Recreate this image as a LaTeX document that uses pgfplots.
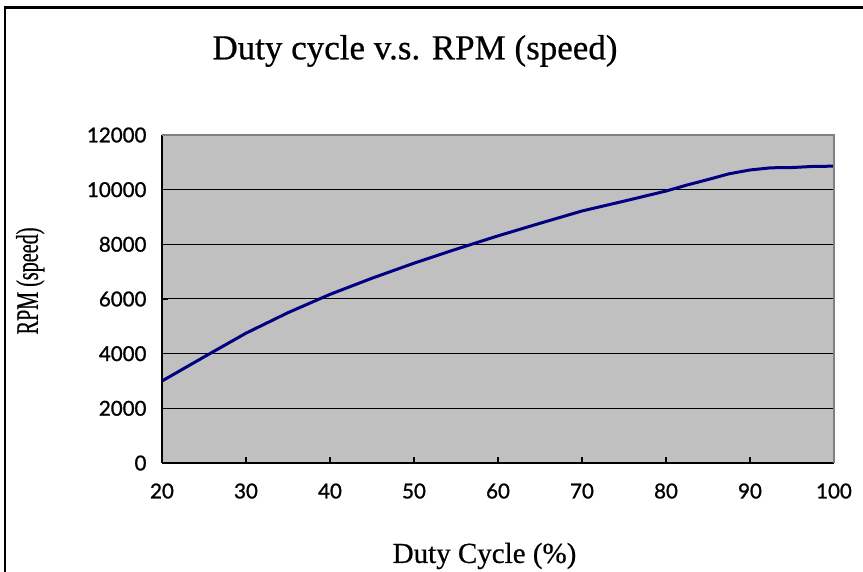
\documentclass[border=0pt]{standalone}
\usepackage{graphicx}
\usepackage{fontspec}
\setmainfont{Liberation Serif}
\newfontfamily\serifheavy[FakeBold=0.6]{Liberation Serif}
\newfontfamily\tickfont[FakeBold=1.2]{Lato}
\usepackage{pgfplots}
\pgfplotsset{compat=1.18}
\definecolor{plotgray}{RGB}{192,192,192}
\definecolor{edgegray}{RGB}{128,128,128}
\definecolor{navyline}{RGB}{0,0,128}
\begin{document}
\begin{tikzpicture}
\useasboundingbox (0,0) rectangle (863pt,571pt);
\fill[white] (0,0) rectangle (863pt,571pt);
\draw[black, line width=2.5pt] (5pt,-30pt) rectangle (900pt,563.5pt);
\begin{axis}[
  at={(162pt,108pt)}, anchor=south west,
  scale only axis, width=672pt, height=328pt,
  xmin=20, xmax=100, ymin=0, ymax=12000,
  xtick={20,30,...,100},
  ytick={0,2000,...,12000},
  scaled ticks=false,
  /pgf/number format/1000 sep={},
  /pgf/number format/assume math mode=true,
  axis x line*=bottom, axis y line*=left,
  axis line style={black, line width=2.2pt, -},
  tick align=inside,
  major tick length=6pt,
  tick style={black, line width=1.5pt},
  ymajorgrids,
  grid style={black, line width=1pt},
  axis background/.style={fill=plotgray},
  ticklabel style={font=\tickfont\fontsize{20.5}{24}\selectfont},
  xticklabel style={yshift=-17pt},
  yticklabel style={xshift=-12pt},
  title={Duty cycle v.s. RPM (speed)},
  title style={font=\serifheavy\fontsize{35}{40}\selectfont, at={(axis description cs:0.3765,1.238)}, anchor=center},
  xlabel={Duty Cycle (\%)},
  xlabel style={font=\serifheavy\fontsize{29}{34}\selectfont, at={(axis description cs:0.48,-0.2835)}, anchor=center},
  ylabel={\scalebox{0.72}[1.12]{RPM (speed)}},
  ylabel style={font=\serifheavy\fontsize{28}{32}\selectfont, at={(axis description cs:-0.196,0.555)}, anchor=center, rotate=0},
  after end axis/.code={
    \draw[edgegray, line width=2pt] (rel axis cs:0,1) -- (rel axis cs:1,1) -- (rel axis cs:1,0);
  },
]
\addplot[navyline, line width=3pt, no marks] coordinates {
(20,3000) (25,3880) (30,4750) (35,5500) (40,6170) (45,6760) (50,7310)
(55,7820) (60,8310) (65,8770) (70,9220) (75,9580) (80,9950)
(82.5,10170) (85,10370) (87.5,10580) (90,10720) (92.5,10800)
(95,10810) (97.5,10850) (100,10860)
};
\end{axis}
\end{tikzpicture}
\end{document}
